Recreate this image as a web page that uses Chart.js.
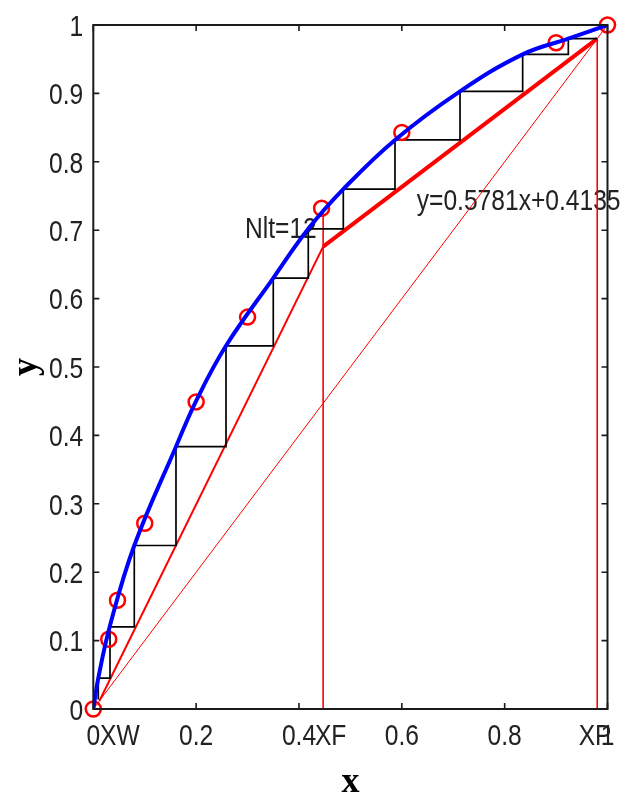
<!DOCTYPE html>
<html><head><meta charset="utf-8">
<script src="https://cdn.jsdelivr.net/npm/chart.js@4.4.1/dist/chart.umd.min.js"></script>
<style>html,body{margin:0;padding:0;background:#fff;}#wrap{width:623px;height:798px;}</style>
</head><body><div id="wrap"><canvas id="c" width="623" height="798"></canvas></div>
<script>
// ---- data ----
// measured equilibrium points (red circles)
const eqX = [0, 0.03, 0.047, 0.1, 0.2, 0.3, 0.444, 0.6, 0.9, 1];
const eqY = [0, 0.102, 0.159, 0.2715, 0.449, 0.573, 0.732, 0.843, 0.974, 1];
// fitted equilibrium curve (blue)
const curveX = [0, 0.0097, 0.0325, 0.0797, 0.1608, 0.201, 0.2581, 0.350, 0.4181, 0.4862, 0.5867, 0.7132, 0.835, 0.9238, 1];
const curveY = [0, 0.045, 0.122, 0.239, 0.3835, 0.452, 0.531, 0.630, 0.702, 0.760, 0.832, 0.903, 0.957, 0.98, 1];
// staircase: x of each vertical riser, y level after each riser
const stepX = [0.98, 0.9238, 0.835, 0.7132, 0.5867, 0.4862, 0.4181, 0.350, 0.2581, 0.1608, 0.0797, 0.0325, 0.0097];
const stepY = [0.98, 0.957, 0.903, 0.832, 0.760, 0.702, 0.630, 0.531, 0.3835, 0.239, 0.120, 0.045, 0.014];
// key compositions
const xW = 0.012, xF = 0.447, xP = 0.98, yQ = 0.676, yFtop = 0.725;
// tick values
const xTicks = [0, 0.2, 0.4, 0.6, 0.8, 1];
const yTicks = [0, 0.1, 0.2, 0.3, 0.4, 0.5, 0.6, 0.7, 0.8, 0.9, 1];
// extra axis labels and annotations
const markNames = ['XW', 'XF', 'XP'];
const markAt = [0.013, 0.431, 0.944];
const noteText = ['Nlt=12', 'y=0.5781x+0.4135'];
const noteX = [0.295, 0.629];
const noteY = [0.6886, 0.7295];

const FONT = '"Liberation Sans", Arial, sans-serif';
const NARROW = 0.82;
const fmt = v => String(Math.round(v * 10) / 10);

function pts(xs, ys) { return xs.map((x, i) => ({x: x, y: ys[i]})); }
function stairPts() {
  const p = [{x: stepX[0], y: stepY[0]}];
  for (let i = 1; i < stepX.length; i++) {
    p.push({x: stepX[i], y: stepY[i - 1]});
    p.push({x: stepX[i], y: stepY[i]});
  }
  return p;
}
function line(data, color, width, order) {
  return {data: data, borderColor: color, backgroundColor: color, borderWidth: width, pointRadius: 0,
          showLine: true, fill: false, tension: 0, order: order};
}
// narrow (condensed) text, like the reference's Arial Narrow look
function nText(ctx, text, x, y, align) {
  ctx.save();
  ctx.translate(x, y);
  ctx.scale(NARROW, 1);
  ctx.textAlign = align;
  ctx.textBaseline = 'alphabetic';
  ctx.fillText(text, 0, 0);
  ctx.restore();
}

const framePlugin = {
  id: 'frame',
  afterDatasetsDraw(chart) {
    const {ctx, chartArea: a, scales} = chart;
    ctx.save();
    ctx.strokeStyle = '#1a1a1a';
    ctx.lineWidth = 2;
    ctx.strokeRect(a.left, a.top, a.right - a.left, a.bottom - a.top);
    ctx.lineWidth = 1.6;
    const L = 6;
    ctx.beginPath();
    scales.x.ticks.forEach(t => {
      const px = scales.x.getPixelForValue(t.value);
      ctx.moveTo(px, a.bottom); ctx.lineTo(px, a.bottom - L);
      ctx.moveTo(px, a.top); ctx.lineTo(px, a.top + L);
    });
    scales.y.ticks.forEach(t => {
      const py = scales.y.getPixelForValue(t.value);
      ctx.moveTo(a.left, py); ctx.lineTo(a.left + L, py);
      ctx.moveTo(a.right, py); ctx.lineTo(a.right - L, py);
    });
    ctx.stroke();
    ctx.restore();
  }
};
const textPlugin = {
  id: 'texts',
  beforeDatasetsDraw(chart) {
    const {ctx, scales} = chart;
    ctx.save();
    ctx.fillStyle = '#222';
    ctx.font = '30px ' + FONT;
    noteText.forEach((t, i) => {
      nText(ctx, t, scales.x.getPixelForValue(noteX[i]), scales.y.getPixelForValue(noteY[i]), 'left');
    });
    ctx.restore();
  },
  afterDraw(chart) {
    const {ctx, scales, chartArea: a} = chart;
    ctx.save();
    ctx.fillStyle = '#222';
    ctx.font = '30px ' + FONT;
    // tick labels from the library's ticks
    scales.x.ticks.forEach(t => {
      nText(ctx, fmt(t.value), scales.x.getPixelForValue(t.value), a.bottom + 36, 'center');
    });
    scales.y.ticks.forEach(t => {
      nText(ctx, fmt(t.value), a.left - 10, scales.y.getPixelForValue(t.value) + 10.7, 'right');
    });
    markNames.forEach((t, i) => {
      nText(ctx, t, scales.x.getPixelForValue(markAt[i]), a.bottom + 36, 'left');
    });
    ctx.restore();
  }
};

new Chart(document.getElementById('c').getContext('2d'), {
  type: 'scatter',
  data: {
    datasets: [
      Object.assign(line(pts(curveX, curveY), '#0000ff', 4, 0), {tension: 0.4}),
      {data: pts(eqX, eqY), showLine: false, pointRadius: 7.5, pointBorderWidth: 2.5, pointBorderColor: '#ff0000',
       pointBackgroundColor: 'rgba(0,0,0,0)', order: 1, clip: false},
      line(stairPts(), '#000000', 1.7, 2),
      line(pts([xF, xP], [yQ, xP]), '#ff0000', 4, 3),
      line(pts([xW, xF], [xW, yQ]), '#ff0000', 2, 4),
      line(pts([xF, xF], [0, yFtop]), '#ff0000', 1.6, 5),
      line(pts([xP, xP], [0, xP]), '#ff0000', 1.6, 5),
      line(pts([0, 1], [0, 1]), '#ff0000', 1, 6)
    ]
  },
  options: {
    responsive: false,
    animation: false,
    events: [],
    layout: {padding: {top: 25, right: 15.5, left: 0, bottom: 0}},
    plugins: {legend: {display: false}, tooltip: {enabled: false}},
    scales: {
      x: {
        type: 'linear', min: 0, max: 1,
        afterFit: s => { s.height = 89; },
        afterBuildTicks: s => { s.ticks = xTicks.map(v => ({value: v})); },
        ticks: {display: false, callback: v => fmt(v), autoSkip: false, maxRotation: 0},
        grid: {display: false, drawTicks: false},
        border: {display: false},
        title: {display: true, text: 'x', color: '#000', padding: {top: 0, bottom: 0},
                font: {family: '"Liberation Serif", "Times New Roman", serif', weight: 'bold', size: 36, lineHeight: 0.85}}
      },
      y: {
        type: 'linear', min: 0, max: 1,
        afterFit: s => { s.width = 93.3; },
        afterBuildTicks: s => { s.ticks = yTicks.map(v => ({value: v})); },
        ticks: {display: false, callback: v => fmt(v), autoSkip: false},
        grid: {display: false, drawTicks: false},
        border: {display: false},
        title: {display: true, text: 'y', color: '#000', padding: {top: 9, bottom: 0},
                font: {family: '"Liberation Serif", "Times New Roman", serif', weight: 'bold', size: 36, lineHeight: 1}}
      }
    }
  },
  plugins: [framePlugin, textPlugin]
});
</script></body></html>
